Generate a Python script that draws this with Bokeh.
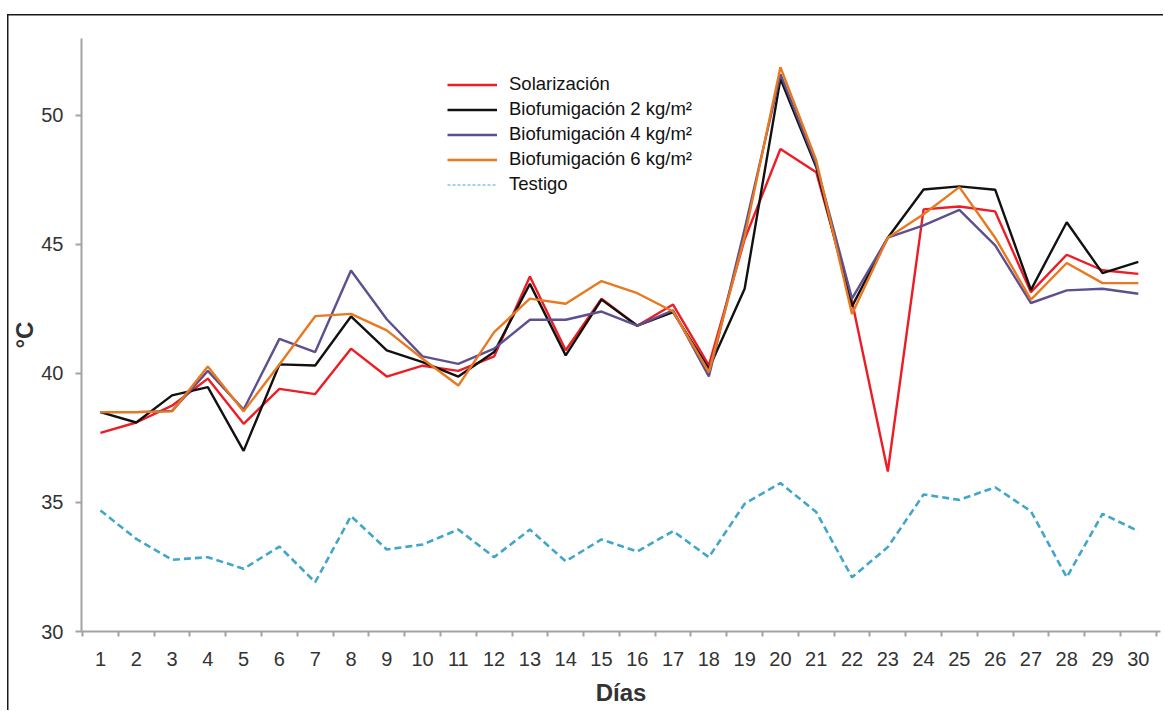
from bokeh.plotting import figure
from bokeh.models import Range1d, FixedTicker, Legend, LegendItem, ColumnDataSource
from bokeh.embed import file_html
from bokeh.resources import INLINE

days = list(range(1, 31))
day_labels = [str(d) for d in days]

solarizacion = [37.7, 38.1, 38.75, 39.8, 38.05, 39.4, 39.2, 40.96, 39.88, 40.3,
                40.1, 40.66, 43.76, 40.9, 42.9, 41.85, 42.67, 40.31, 45.2, 48.7,
                47.8, 42.8, 36.2, 46.36, 46.47, 46.28, 43.15, 44.6, 44.0, 43.86]
bio2 = [38.5, 38.1, 39.15, 39.47, 37.0, 40.35, 40.31, 42.21, 40.89, 40.44,
        39.88, 40.83, 43.47, 40.7, 42.86, 41.85, 42.38, 40.18, 43.28, 51.42,
        48.0, 42.6, 45.26, 47.13, 47.25, 47.12, 43.24, 45.86, 43.89, 44.32]
bio4 = [38.5, 38.5, 38.55, 40.1, 38.6, 41.34, 40.83, 43.99, 42.1, 40.66,
        40.37, 40.96, 42.08, 42.08, 42.4, 41.85, 42.45, 39.88, 45.6, 51.6,
        48.1, 42.9, 45.26, 45.74, 46.34, 44.96, 42.73, 43.22, 43.28, 43.09]
bio6 = [38.5, 38.5, 38.53, 40.27, 38.53, 40.35, 42.22, 42.31, 41.67, 40.57,
        39.53, 41.6, 42.9, 42.7, 43.58, 43.11, 42.4, 40.05, 45.3, 51.87,
        48.26, 42.3, 45.26, 46.17, 47.22, 45.26, 42.86, 44.28, 43.5, 43.5]
testigo = [34.69, 33.59, 32.78, 32.88, 32.43, 33.29, 31.91, 34.47, 33.18, 33.37,
           33.95, 32.88, 33.95, 32.72, 33.57, 33.10, 33.89, 32.88, 34.95, 35.75,
           34.63, 32.1, 33.27, 35.31, 35.1, 35.59, 34.66, 32.1, 34.56, 33.89]

y_ticks = [30, 35, 40, 45, 50]
series_names = ["Solarización", "Biofumigación 2 kg/m²", "Biofumigación 4 kg/m²",
                "Biofumigación 6 kg/m²", "Testigo"]

FONT = "Liberation Sans"
AXIS_GREY = "#a3a3a3"
TEXT = "#333333"

p = figure(width=1163, height=710, output_backend="svg", toolbar_location=None,
           x_range=Range1d(0.47, 30.62), y_range=Range1d(30, 52.98),
           min_border_left=81, min_border_right=3, min_border_top=38, min_border_bottom=79,
           background_fill_color="white", border_fill_color=None)
p.outline_line_color = None
p.grid.visible = False
p.styles = {
    "background-color": "white",
    "background-image": "linear-gradient(#1a1a1a, #1a1a1a), linear-gradient(#1a1a1a, #1a1a1a)",
    "background-size": "100% 1.5px, 1.5px 100%",
    "background-position": "7px 14px, 7px 14px",
    "background-repeat": "no-repeat",
}

src = ColumnDataSource(dict(x=days, sol=solarizacion, b2=bio2, b4=bio4, b6=bio6, t=testigo))

r_t = p.line("x", "t", source=src, line_color="#41a7c9", line_width=2.6, line_dash="7 4")
r_s = p.line("x", "sol", source=src, line_color="#ee1c24", line_width=2.4)
r_2 = p.line("x", "b2", source=src, line_color="#111111", line_width=2.4)
r_4 = p.line("x", "b4", source=src, line_color="#5e4f8f", line_width=2.4)
r_6 = p.line("x", "b6", source=src, line_color="#e8791f", line_width=2.4)
# thin dashed sample for the legend entry (kept outside the visible range)
r_tl = p.line(x=[-10, -9], y=[0, 0], line_color="#3ea6e0", line_width=1, line_dash="3 2")

# axes
xa = p.xaxis[0]
xa.ticker = FixedTicker(ticks=days, minor_ticks=[d - 0.5 for d in days] + [30.5])
xa.major_label_overrides = {d: l for d, l in zip(days, day_labels)}
xa.major_tick_line_color = None
xa.major_tick_out = 5
xa.minor_tick_line_color = AXIS_GREY
xa.minor_tick_line_width = 2
xa.minor_tick_out = 5
xa.minor_tick_in = 0
xa.axis_line_color = AXIS_GREY
xa.axis_line_width = 2
xa.major_label_text_font = FONT
xa.major_label_text_font_size = "20px"
xa.major_label_text_color = TEXT
xa.major_label_standoff = 15
xa.axis_label = "Días"
xa.axis_label_text_font = FONT
xa.axis_label_text_font_size = "24px"
xa.axis_label_text_font_style = "bold"
xa.axis_label_text_color = TEXT
xa.axis_label_standoff = 10

ya = p.yaxis[0]
ya.ticker = FixedTicker(ticks=y_ticks)
ya.minor_tick_line_color = None
ya.major_tick_line_color = AXIS_GREY
ya.major_tick_line_width = 2
ya.major_tick_out = 6
ya.major_tick_in = 0
ya.axis_line_color = AXIS_GREY
ya.axis_line_width = 2
ya.major_label_text_font = FONT
ya.major_label_text_font_size = "20px"
ya.major_label_text_color = TEXT
ya.major_label_standoff = 12
ya.axis_label = "°C"
ya.axis_label_text_font = FONT
ya.axis_label_text_font_size = "24px"
ya.axis_label_text_font_style = "bold"
ya.axis_label_text_color = TEXT
ya.axis_label_standoff = 0

legend = Legend(items=[
    LegendItem(label=series_names[0], renderers=[r_s]),
    LegendItem(label=series_names[1], renderers=[r_2]),
    LegendItem(label=series_names[2], renderers=[r_4]),
    LegendItem(label=series_names[3], renderers=[r_6]),
    LegendItem(label=series_names[4], renderers=[r_tl]),
], location=(366, 436))
legend.padding = 0
legend.margin = 0
legend.spacing = 3
legend.glyph_width = 50
legend.glyph_height = 21
legend.label_height = 21
legend.label_standoff = 12
legend.label_text_font = FONT
legend.label_text_font_size = "18.5px"
legend.label_text_color = "#111111"
legend.border_line_color = None
legend.background_fill_alpha = 0
p.add_layout(legend, "center")

open("out.html", "w").write(file_html(p, INLINE))
